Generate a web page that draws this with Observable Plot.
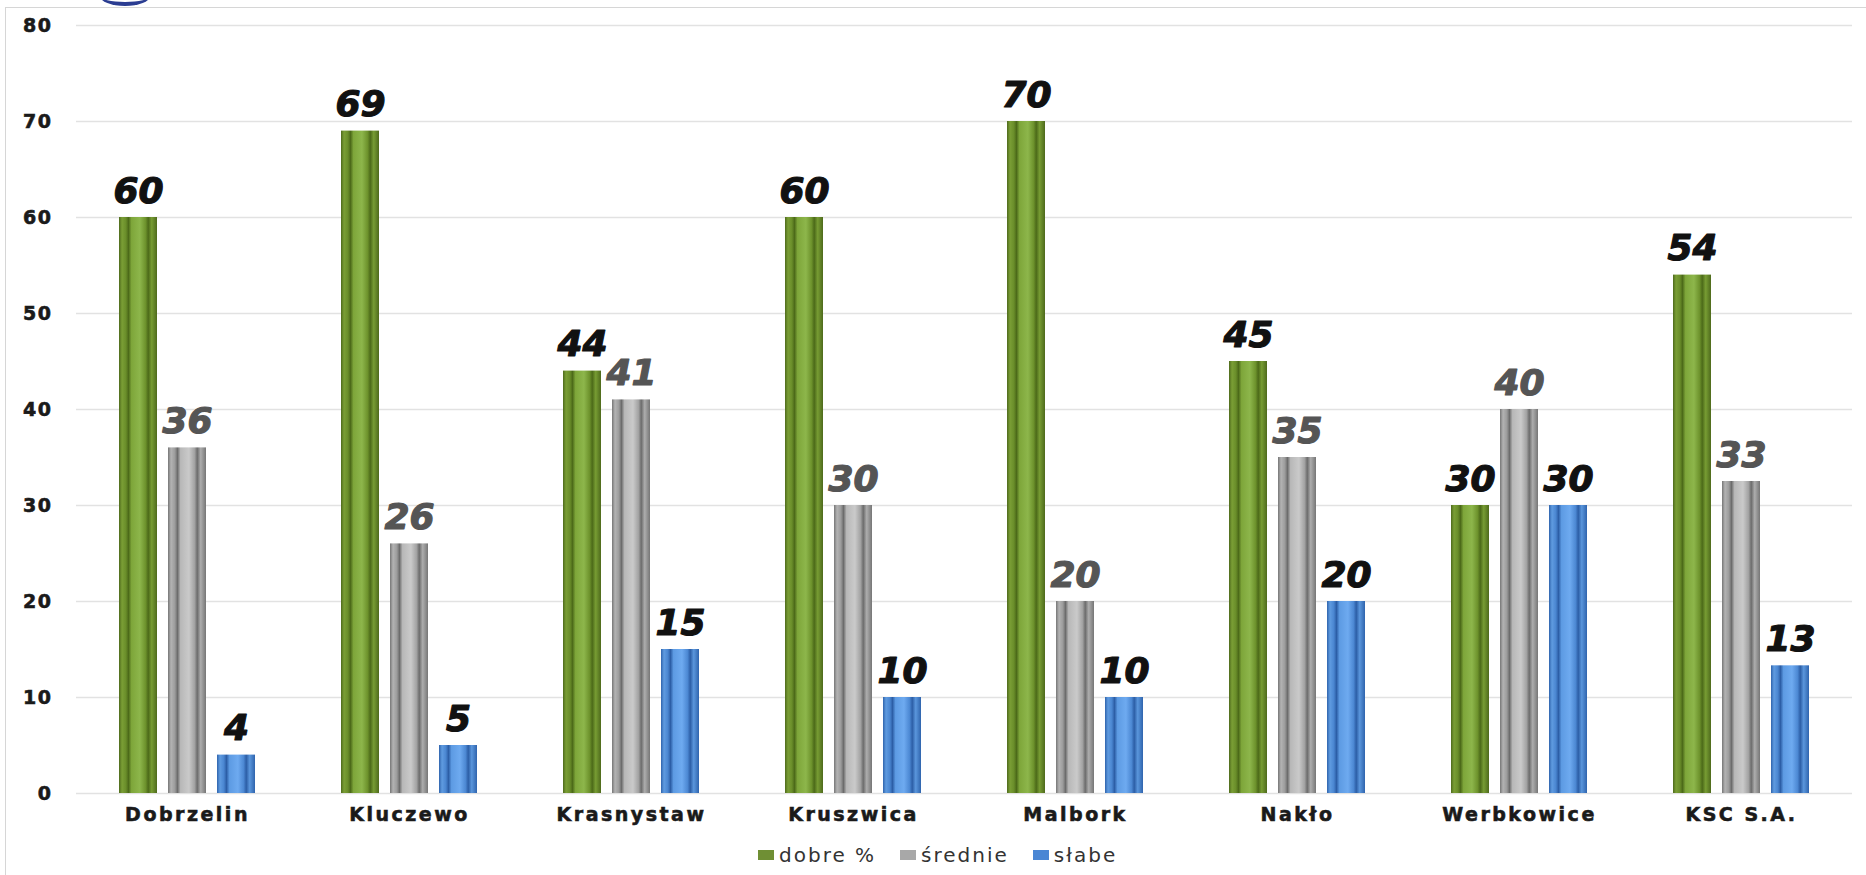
<!DOCTYPE html>
<html>
<head>
<meta charset="utf-8">
<script src="https://cdn.jsdelivr.net/npm/d3@7"></script>
<script src="https://cdn.jsdelivr.net/npm/@observablehq/plot@0.6"></script>
<style>
  html, body { margin: 0; padding: 0; background: #fff; }
  #wrap { position: relative; width: 1866px; height: 875px; overflow: hidden; }
  #frame { position: absolute; left: 5px; top: 7px; width: 1870px; height: 880px;
           border-left: 1px solid #d6d6d6; border-top: 1px solid #d6d6d6; }
  #logo { position: absolute; left: 100px; top: -14px; width: 50px; height: 16px;
          border-bottom: 4px solid #2b3d92; border-radius: 50%; }
  #chart { position: absolute; left: 0; top: 0; }
  #legend { position: absolute; left: 758px; top: 843px; display: flex; align-items: center;
            font-family: "DejaVu Sans", sans-serif; font-size: 20px; letter-spacing: 2px; color: #333; }
  .item { display: flex; align-items: center; margin-right: 24px; }
  .sw { width: 16px; height: 10px; margin-right: 5px; }
</style>
</head>
<body>
<div id="wrap">
  <div id="frame"></div>
  <div id="logo"></div>
  <div id="chart"></div>
  <div id="legend"></div>
</div>
<script>
const categories = ["Dobrzelin", "Kluczewo", "Krasnystaw", "Kruszwica", "Malbork", "Nakło", "Werbkowice", "KSC S.A."];
const seriesNames = ["dobre %", "średnie", "słabe"];
const dobre   = [60, 69, 44, 60, 70, 45, 30, 54];
const srednie = [36, 26, 41, 30, 20, 35, 40, 32.5];
const slabe   = [4, 5, 15, 10, 10, 20, 30, 13.3];
const yTicks  = [0, 10, 20, 30, 40, 50, 60, 70, 80];

const seriesValues = [dobre, srednie, slabe];
const data = [];
categories.forEach((c, i) => {
  seriesNames.forEach((s, j) => data.push({cat: c, series: s, value: seriesValues[j][i]}));
});

const fmt = d3.format(".0f");
const labelStyle = {
  text: d => fmt(d.value), lineAnchor: "bottom", dy: -15,
  fontSize: 36, fontWeight: "bold", fontStyle: "italic", fontFamily: "DejaVu Sans",
  strokeWidth: 1.2
};

const chart = Plot.plot({
  width: 1866,
  height: 840,
  marginLeft: 76,
  marginRight: 14,
  marginTop: 25,
  marginBottom: 47,
  style: {fontFamily: "DejaVu Sans", fontSize: "18px", fontWeight: "bold", color: "#1a1a1a", background: "transparent"},
  fx: {domain: categories, padding: 0, label: null, tickSize: 0, tickPadding: 14, axis: "bottom"},
  x: {domain: seriesNames, paddingInner: 0.22, paddingOuter: 0.875, axis: null},
  y: {domain: [0, 80], ticks: yTicks, tickSize: 0, tickPadding: 24, label: null, tickFormat: d3.format("d")},
  color: {domain: seriesNames, range: ["url(#gGreen)", "url(#gGray)", "url(#gBlue)"]},
  marks: [
    Plot.gridY(yTicks, {stroke: "#e2e2e2", strokeOpacity: 1, strokeWidth: 1.5}),
    Plot.barY(data, {fx: "cat", x: "series", y: "value", fill: "series", inset: 0}),
    Plot.text(data.filter(d => d.series !== "średnie"), {fx: "cat", x: "series", y: "value", fill: "#111", stroke: "#111", ...labelStyle}),
    Plot.text(data.filter(d => d.series === "średnie"), {fx: "cat", x: "series", y: "value", fill: "#555", stroke: "#555", ...labelStyle})
  ]
});

// gradients for bevelled bars
const svg = d3.select(chart.tagName.toLowerCase() === "svg" ? chart : chart.querySelector("svg"));
const defs = svg.insert("defs", ":first-child");
const grads = {
  gGreen: ["#4e6a1c", "#7a9e35", "#6a8e2a", "#4c6a19", "#7ea63a", "#8db64b", "#6d922c", "#4c6a19", "#779c33", "#4e6a1c"],
  gGray:  ["#767676", "#b3b3b3", "#9c9c9c", "#6c6c6c", "#b8b8b8", "#cacaca", "#a2a2a2", "#6c6c6c", "#adadad", "#767676"],
  gBlue:  ["#2f64ad", "#5f9be0", "#4a86d1", "#2c5ea6", "#5d9be3", "#6eaaf0", "#4c88d3", "#2c5ea6", "#5a96dc", "#2f64ad"]
};
const offs = [0, 0.08, 0.18, 0.25, 0.33, 0.55, 0.7, 0.77, 0.86, 1];
for (const [id, cols] of Object.entries(grads)) {
  const g = defs.append("linearGradient").attr("id", id).attr("x1", 0).attr("x2", 1).attr("y1", 0).attr("y2", 0);
  cols.forEach((c, k) => g.append("stop").attr("offset", offs[k]).attr("stop-color", c));
}
svg.selectAll("g[aria-label*='axis']").attr("font-size", null).style("font-size", "18px");
svg.selectAll("g[aria-label^='y-axis'] text").style("font-size", "19px").style("letter-spacing", "1.5px")
  .style("stroke", "#1a1a1a").style("stroke-width", "0.6px");
svg.selectAll("g[aria-label^='fx-axis'] text").style("font-size", "19px").style("letter-spacing", "2.5px")
  .style("stroke", "#1a1a1a").style("stroke-width", "0.6px");

document.getElementById("chart").appendChild(chart);

// legend
const swatch = ["#6f8f34", "#a8a8a8", "#4a86d4"];
const legend = document.getElementById("legend");
seriesNames.forEach((s, i) => {
  const it = document.createElement("div"); it.className = "item";
  const sw = document.createElement("div"); sw.className = "sw"; sw.style.background = swatch[i];
  const tx = document.createElement("span"); tx.textContent = s;
  it.appendChild(sw); it.appendChild(tx); legend.appendChild(it);
});
</script>
</body>
</html>
